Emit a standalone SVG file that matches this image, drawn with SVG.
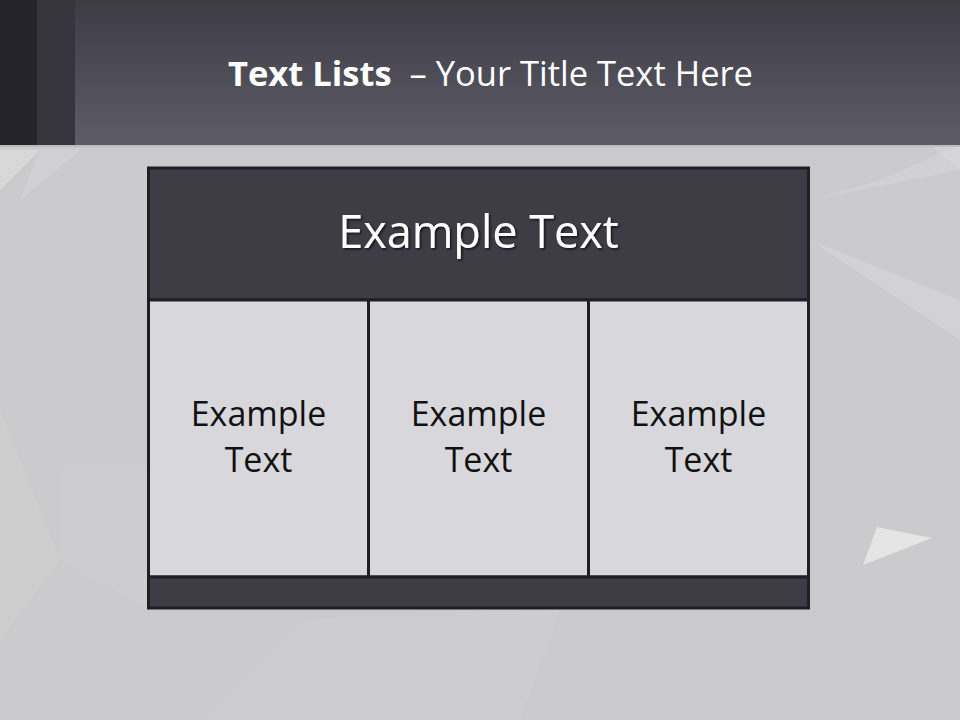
<svg xmlns="http://www.w3.org/2000/svg" width="960" height="720" viewBox="0 0 960 720">
<defs>
<linearGradient id="hdr" x1="0" y1="0" x2="0" y2="1">
<stop offset="0" stop-color="#3d3c45"/>
<stop offset="1" stop-color="#5e5d67"/>
</linearGradient>
<filter id="sh" x="-10%" y="-20%" width="120%" height="140%">
<feDropShadow dx="1.5" dy="1.5" stdDeviation="1" flood-color="#000" flood-opacity="0.7"/>
</filter>
<style>
.title{font-family:"Open Sans","Liberation Sans",sans-serif;fill:#ffffff;font-size:34.5px}
.cell{fill:#d8d8dc;stroke:#1f1e24;stroke-width:3}
.dark{fill:#3e3d46;stroke:#1f1e24;stroke-width:3}
.ct{font-family:"Open Sans","Liberation Sans",sans-serif;font-size:34px;fill:#111111;text-anchor:middle}
.ht{font-family:"Open Sans","Liberation Sans",sans-serif;font-size:45px;fill:#ffffff;text-anchor:middle}
.poly{fill:#ffffff}
</style>
</defs>
<!-- background -->
<rect x="0" y="0" width="960" height="720" fill="#cbcbcd"/>
<polygon class="poly" opacity="0.25" points="0,150 40,150 0,190"/>
<polygon class="poly" opacity="0.12" points="40,150 80,150 20,200"/>
<polygon class="poly" opacity="0.15" points="810,240 960,300 960,340"/>
<polygon class="poly" opacity="0.12" points="930,145 960,145 960,170"/>
<polygon class="poly" opacity="0.12" points="810,200 960,170 960,145 880,180"/>
<polygon class="poly" opacity="0.5" points="877,527 932,538 863,565"/>
<polygon class="poly" opacity="0.06" points="0,410 60,560 0,640"/>
<polygon class="poly" opacity="0.05" points="60,470 150,470 150,610 60,560"/>
<polygon class="poly" opacity="0.05" points="300,620 560,610 520,720 200,720"/>
<!-- header band -->
<rect x="0" y="0" width="960" height="145" fill="url(#hdr)"/>
<rect x="0" y="0" width="37" height="145" fill="#25242a"/>
<rect x="37" y="0" width="38" height="145" fill="#36353d"/>
<rect x="0" y="145" width="960" height="2" fill="#bcbcbf"/>
<g id="title">
<text class="title" x="228" y="86"><tspan font-weight="bold">Text Lists</tspan><tspan xml:space="preserve">  – Your Title Text Here</tspan></text>
</g>
<!-- table -->
<g id="header">
<rect class="dark" x="148.5" y="168" width="660" height="132"/>
<text class="ht" x="478.5" y="248" filter="url(#sh)">Example Text</text>
</g>
<g id="cell1">
<rect class="cell" x="148.5" y="300" width="220" height="277"/>
<text class="ct" x="258.5" y="426">Example</text>
<text class="ct" x="258.5" y="472">Text</text>
</g>
<g id="cell2">
<rect class="cell" x="368.5" y="300" width="220" height="277"/>
<text class="ct" x="478.5" y="426">Example</text>
<text class="ct" x="478.5" y="472">Text</text>
</g>
<g id="cell3">
<rect class="cell" x="588.5" y="300" width="220" height="277"/>
<text class="ct" x="698.5" y="426">Example</text>
<text class="ct" x="698.5" y="472">Text</text>
</g>
<g id="footer">
<rect class="dark" x="148.5" y="577" width="660" height="31"/>
</g>
<g id="connectors"/>
</svg>
